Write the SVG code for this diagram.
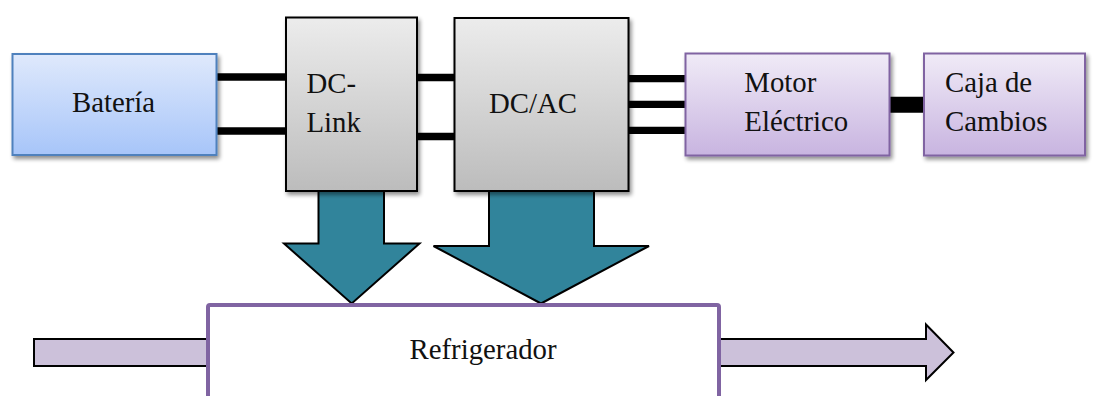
<svg xmlns="http://www.w3.org/2000/svg" width="1097" height="396" viewBox="0 0 1097 396">
  <defs>
    <linearGradient id="gBlue" x1="0" y1="0" x2="0" y2="1">
      <stop offset="0" stop-color="#dfe9fc"/>
      <stop offset="1" stop-color="#a7c5f9"/>
    </linearGradient>
    <linearGradient id="gGray" x1="0" y1="0" x2="0" y2="1">
      <stop offset="0" stop-color="#ececec"/>
      <stop offset="1" stop-color="#bcbcbc"/>
    </linearGradient>
    <linearGradient id="gPurple" x1="0" y1="0" x2="0" y2="1">
      <stop offset="0" stop-color="#f0ebf7"/>
      <stop offset="1" stop-color="#c8b4e0"/>
    </linearGradient>
    <filter id="shadow" x="-10%" y="-10%" width="125%" height="130%">
      <feGaussianBlur in="SourceAlpha" stdDeviation="2"/>
      <feOffset dx="1.5" dy="2.5" result="b"/>
      <feComponentTransfer><feFuncA type="linear" slope="0.45"/></feComponentTransfer>
      <feMerge><feMergeNode/><feMergeNode in="SourceGraphic"/></feMerge>
    </filter>
  </defs>
  <style>
    text { font-family: 'Liberation Serif', 'DejaVu Serif', serif; font-size: 28.8px; fill: #111; }
    .wire { stroke: #000; stroke-width: 7.3; fill: none; }
    .blue { fill: url(#gBlue); stroke: #4f81bd; stroke-width: 2; }
    .gray { fill: url(#gGray); stroke: #000; stroke-width: 2; }
    .purple { fill: url(#gPurple); stroke: #8064a2; stroke-width: 2; }
    .heat { fill: #31849b; stroke: #000; stroke-width: 2; stroke-linejoin: miter; }
    .flow { fill: #ccc1da; stroke: #000; stroke-width: 2; }
  </style>

  <!-- electrical connections -->
  <g id="connectors">
    <line class="wire" x1="216" y1="77" x2="287" y2="77"/>
    <line class="wire" x1="216" y1="131" x2="287" y2="131"/>
    <line class="wire" x1="417" y1="77.5" x2="455" y2="77.5"/>
    <line class="wire" x1="417" y1="136.5" x2="455" y2="136.5"/>
    <line class="wire" x1="628" y1="78.7" x2="686" y2="78.7"/>
    <line class="wire" x1="628" y1="104.3" x2="686" y2="104.3"/>
    <line class="wire" x1="628" y1="130.3" x2="686" y2="130.3"/>
    <line x1="889" y1="104.7" x2="925" y2="104.7" stroke="#000" stroke-width="16"/>
  </g>

  <!-- coolant flow in and out -->
  <g id="flow-in">
    <rect class="flow" x="34" y="339" width="176" height="27"/>
  </g>
  <g id="flow-out">
    <polygon class="flow" points="719,339 926,339 926,324.5 953.5,352.5 926,380 926,366 719,366"/>
  </g>

  <!-- heat arrows into the cooler -->
  <g id="heat-dclink">
    <polygon class="heat" points="318.5,190 384,190 384,243.5 419.5,243.5 351.7,303.5 284,243.5 318.5,243.5"/>
  </g>
  <g id="heat-inverter">
    <polygon class="heat" points="489,190 594,190 594,246 649,246 541,303.5 433.5,246 489,246"/>
  </g>

  <g id="refrigerador">
    <path d="M208,400 L208,307 Q208,305 210,305 L717,305 Q719,305 719,307 L719,400" fill="#fff" stroke="#8064a2" stroke-width="4"/>
    <text font-family="Liberation Serif, serif" x="409.5" y="358.5">Refrigerador</text>
  </g>

  <g id="bateria">
    <rect class="blue" x="12.5" y="54" width="204" height="101" filter="url(#shadow)"/>
    <text x="72" y="112.3">Batería</text>
  </g>

  <g id="dc-link">
    <rect class="gray" x="286" y="17.5" width="131" height="173.5" filter="url(#shadow)"/>
    <text x="306.5" y="92.7">DC-</text>
    <text x="306.5" y="131.5">Link</text>
  </g>

  <g id="dc-ac">
    <rect class="gray" x="454.5" y="18" width="174" height="173" filter="url(#shadow)"/>
    <text x="489" y="112.7">DC/AC</text>
  </g>

  <g id="motor">
    <rect class="purple" x="685.5" y="53.5" width="204" height="102" filter="url(#shadow)"/>
    <text x="744.3" y="91.7">Motor</text>
    <text x="744.3" y="130.7">Eléctrico</text>
  </g>

  <g id="caja">
    <rect class="purple" x="924" y="53.5" width="161" height="102" filter="url(#shadow)"/>
    <text x="945" y="92">Caja de</text>
    <text x="945" y="131">Cambios</text>
  </g>
</svg>
